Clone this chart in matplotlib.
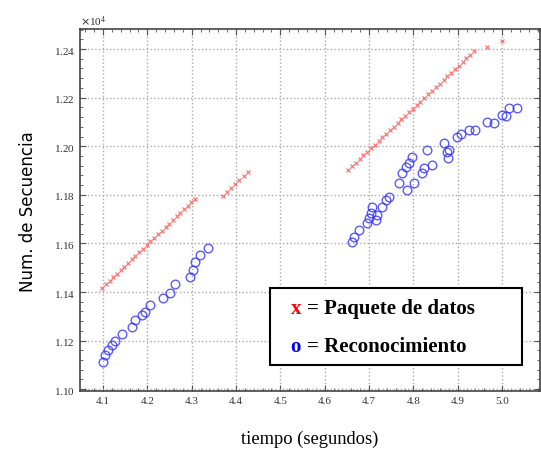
import matplotlib
matplotlib.use('Agg')
import matplotlib.pyplot as plt
from matplotlib.ticker import ScalarFormatter, MultipleLocator, AutoMinorLocator
from matplotlib.patches import Rectangle

# paquetes de datos (x rojas): tiempo, numero de secuencia
t_datos = [4.098, 4.106, 4.115, 4.123, 4.131, 4.140, 4.148, 4.157, 4.165, 4.173,
           4.182, 4.190, 4.199, 4.207, 4.215, 4.224, 4.232, 4.241, 4.249, 4.257,
           4.266, 4.274, 4.283, 4.291, 4.299, 4.307,
           4.370, 4.379, 4.389, 4.398, 4.407, 4.417, 4.426,
           4.653, 4.662, 4.670, 4.679, 4.687, 4.696, 4.705, 4.713, 4.722, 4.730,
           4.739, 4.748, 4.756, 4.765, 4.773, 4.782, 4.790, 4.799, 4.808, 4.816,
           4.825, 4.833, 4.842, 4.851, 4.859, 4.868, 4.876, 4.885, 4.893, 4.902,
           4.911, 4.919, 4.928, 4.936,
           4.967, 4.999]
seq_datos = [11416, 11431, 11446, 11460, 11475, 11490, 11505, 11519, 11534, 11549,
             11564, 11578, 11593, 11608, 11622, 11637, 11652, 11667, 11681, 11696,
             11711, 11725, 11740, 11755, 11770, 11784,
             11796, 11812, 11829, 11845, 11862, 11878, 11895,
             11903, 11918, 11933, 11947, 11962, 11977, 11992, 12006, 12021, 12036,
             12051, 12066, 12080, 12095, 12110, 12125, 12139, 12154, 12169, 12184,
             12198, 12213, 12228, 12243, 12257, 12272, 12287, 12302, 12317, 12331,
             12346, 12361, 12375, 12390,
             12410, 12431]

# reconocimientos (o azules)
t_ack = [4.100, 4.104, 4.111, 4.120, 4.127, 4.143, 4.165, 4.172, 4.188, 4.194,
         4.206, 4.235, 4.251, 4.262, 4.296, 4.302, 4.307, 4.318, 4.336,
         4.662, 4.666, 4.678, 4.696, 4.700, 4.704, 4.707, 4.716, 4.718, 4.729,
         4.738, 4.745, 4.767, 4.774, 4.783, 4.790, 4.797, 4.785, 4.801, 4.819,
         4.824, 4.842, 4.830,
         4.869, 4.876, 4.878, 4.880, 4.898, 4.907, 4.925, 4.940, 4.965, 4.981,
         4.999, 5.010, 5.015, 5.033]
seq_ack = [11111, 11140, 11161, 11181, 11198, 11227, 11256, 11285, 11305, 11318,
           11346, 11375, 11396, 11433, 11462, 11491, 11524, 11553, 11581,
           11606, 11627, 11656, 11685, 11705, 11726, 11751, 11697, 11718, 11751,
           11779, 11792, 11850, 11891, 11916, 11932, 11957, 11821, 11850, 11891,
           11911, 11924, 11986,
           12015, 11977, 11953, 11986, 12039, 12052, 12068, 12068, 12101, 12097,
           12130, 12126, 12159, 12159]

fig = plt.figure(figsize=(5.41, 4.56), dpi=100)
ax = fig.add_axes([0.148, 0.140, 0.850, 0.794])

ax.plot(t_datos, seq_datos, linestyle='none', marker='x', color='#ff4a4a',
        markersize=3.5, markeredgewidth=0.9, alpha=0.75)
ax.plot(t_ack, seq_ack, linestyle='none', marker='o', markerfacecolor='none',
        markeredgecolor='#3333ff', markersize=6.2, markeredgewidth=1.0, alpha=0.8)

ax.set_xlim(4.0483, 5.0854)
ax.set_ylim(10992, 12482)
ax.xaxis.set_major_locator(MultipleLocator(0.1))
ax.yaxis.set_major_locator(MultipleLocator(200))
ax.xaxis.set_minor_locator(AutoMinorLocator(5))
ax.yaxis.set_minor_locator(AutoMinorLocator(5))

fmt = ScalarFormatter(useMathText=True)
fmt.set_powerlimits((0, 0))
ax.yaxis.set_major_formatter(fmt)
ax.yaxis.get_offset_text().set_fontsize(8)
ax.yaxis.get_offset_text().set_family('Liberation Serif')

ax.tick_params(which='both', direction='in', top=True, right=True, colors='#555555',
               labelsize=8, labelcolor='#333333')
ax.tick_params(which='major', length=4)
ax.tick_params(which='minor', length=2)
for lab in ax.get_xticklabels() + ax.get_yticklabels():
    lab.set_family('Liberation Serif')

ax.grid(True, which='major', linestyle=':', color='#aaaaaa', linewidth=1.0)
for s in ax.spines.values():
    s.set_color('#444444')
    s.set_linewidth(1.2)

ax.set_ylabel('Num. de Secuencia', fontsize=12, family='DejaVu Sans', labelpad=12)
ax.set_xlabel('tiempo (segundos)', fontsize=13.3, family='Liberation Serif', labelpad=18)

# leyenda dibujada a mano
ax.add_patch(Rectangle((0.413, 0.073), 0.548, 0.212, transform=ax.transAxes,
                       facecolor='white', edgecolor='black', linewidth=1.5, zorder=5))
tf = dict(transform=ax.transAxes, fontsize=15, family='Liberation Serif',
          fontweight='bold', va='center', zorder=6)
ax.text(0.458, 0.230, 'x', color='red', **tf)
ax.text(0.493, 0.230, '= Paquete de datos', color='black', **tf)
ax.text(0.458, 0.125, 'o', color='blue', **tf)
ax.text(0.493, 0.125, '= Reconocimiento', color='black', **tf)

fig.savefig('out.png', dpi=100)
